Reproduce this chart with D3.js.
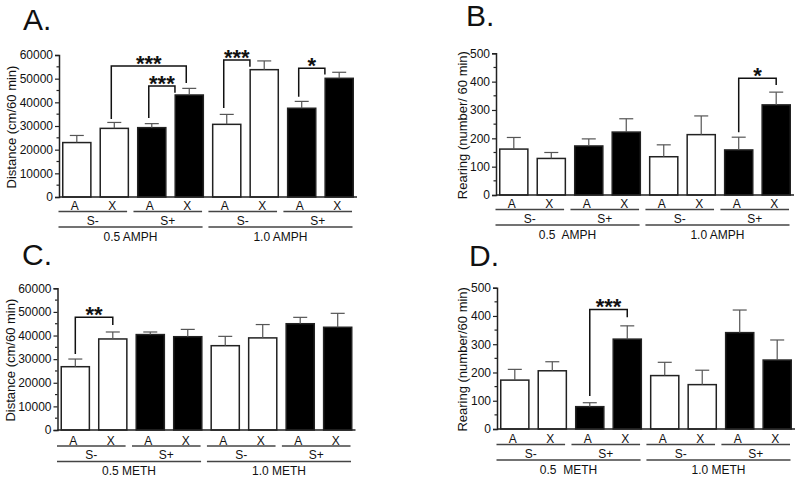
<!DOCTYPE html>
<html>
<head>
<meta charset="utf-8">
<script src="https://cdn.jsdelivr.net/npm/d3@7"></script>
<style>
  html, body { margin: 0; padding: 0; background: #fff; }
  svg { display: block; }
  text { font-family: "Liberation Sans", Arial, sans-serif; fill: #111; }
</style>
</head>
<body>
<svg id="chart" width="800" height="482"></svg>
<script>
// ---------- data ----------
const barLabels = ["A", "X", "A", "X", "A", "X", "A", "X"];
const stimLabels = ["S-", "S+", "S-", "S+"];
const stimFill = ["S-", "S-", "S+", "S+", "S-", "S-", "S+", "S+"];

const distAmphMean = [23000, 29000, 29300, 43100, 30700, 53800, 37500, 50150];
const distAmphSem  = [3000, 2500, 1700, 2800, 4200, 3700, 2900, 2550];
const rearAmphMean = [162, 129, 173, 222, 135, 213, 159, 318];
const rearAmphSem  = [41, 21, 25, 47, 42, 66, 45, 45];
const distMethMean = [26800, 38550, 40400, 39500, 35700, 39000, 45000, 43500];
const distMethSem  = [3250, 2950, 1100, 3100, 3950, 5650, 2700, 5900];
const rearMethMean = [173, 206, 79, 318, 189, 157, 341, 244];
const rearMethSem  = [38, 32, 14, 47, 47, 51, 80, 71];

const distTicks = [0, 10000, 20000, 30000, 40000, 50000, 60000];
const rearTicks = [0, 100, 200, 300, 400, 500];

const amphDoses = ["0.5 AMPH", "1.0 AMPH"];
const amphDosesB = ["0.5  AMPH", "1.0 AMPH"];
const methDoses = ["0.5 METH", "1.0 METH"];
const methDosesD = ["0.5  METH", "1.0 METH"];

// significance brackets: from bar, to bar, top / left-leg end / right-leg end (data units)
const sigA = [
  { from: 1, to: 3, top: 55350, leftEnd: 33000, rightEnd: 48200, label: "***", anchor: "center" },
  { from: 2, to: 3, top: 46900, leftEnd: 33400, rightEnd: 44100, label: "***", anchor: "start" },
  { from: 4, to: 5, top: 57900, leftEnd: 37600, rightEnd: 55000, label: "***", anchor: "start" },
  { from: 6, to: 7, top: 54400, leftEnd: 42400, rightEnd: 51800, label: "*", anchor: "start" }
];
const sigB = [
  { from: 6, to: 7, top: 412, leftEnd: 221, rightEnd: 388, label: "*", anchor: "center" }
];
const sigC = [
  { from: 0, to: 1, top: 47700, leftEnd: 32200, rightEnd: 44500, label: "**", anchor: "center" }
];
const sigD = [
  { from: 2, to: 3, top: 423, leftEnd: 117, rightEnd: 395, label: "***", anchor: "center" }
];

// ---------- layout ----------
const panels = [
  { title: "A.", tx: 23, ty: 30, x0: 59, top: 55, base: 197, max: 60000, ticks: distTicks, minor: 5000,
    mean: distAmphMean, sem: distAmphSem, doses: amphDoses, sig: sigA, ylabel: "Distance (cm/60 min)",
    ylx: 16, fromShift: -3, lab: 0 },
  { title: "B.", tx: 466, ty: 26, x0: 496, top: 53.3, base: 195, max: 500, ticks: rearTicks, minor: 50,
    mean: rearAmphMean, sem: rearAmphSem, doses: amphDosesB, sig: sigB, ylabel: "Rearing (number/ 60 min)",
    ylx: 467, fromShift: 0, lab: 0 },
  { title: "C.", tx: 22, ty: 265, x0: 57.5, top: 288.3, base: 430, max: 60000, ticks: distTicks, minor: 5000,
    mean: distMethMean, sem: distMethSem, doses: methDoses, sig: sigC, ylabel: "Distance (cm/60 min)",
    ylx: 15, fromShift: 0, lab: 1.5 },
  { title: "D.", tx: 469, ty: 265.5, x0: 497, top: 287.7, base: 429, max: 500, ticks: rearTicks, minor: 50,
    mean: rearMethMean, sem: rearMethSem, doses: methDosesD, sig: sigD, ylabel: "Rearing (number/60 min)",
    ylx: 467, fromShift: 0, lab: 1 }
];

const svg = d3.select("#chart");
const axisColor = "#222";
const lineColor = "#444";

panels.forEach(p => {
  const g = svg.append("g");
  const x = d3.scaleBand().domain(d3.range(8)).range([p.x0, p.x0 + 298])
    .paddingInner(0.21).paddingOuter(0.08);
  const y = d3.scaleLinear().domain([0, p.max]).range([p.base, p.top]);

  // title
  g.append("text").attr("x", p.tx).attr("y", p.ty)
    .attr("font-size", 30).text(p.title);

  // y label
  g.append("text")
    .attr("transform", `translate(${p.ylx},${(p.top + p.base) / 2 + 1}) rotate(-90)`)
    .attr("text-anchor", "middle").attr("font-size", 13).text(p.ylabel);

  // y axis
  const yAxis = d3.axisLeft(y).tickValues(p.ticks).tickSize(4).tickPadding(2)
    .tickFormat(d3.format("d"));
  const ya = g.append("g").attr("transform", `translate(${p.x0},0)`).call(yAxis);
  ya.select(".domain").attr("stroke", axisColor).attr("stroke-width", 1.5);
  ya.selectAll(".tick line").attr("stroke", axisColor).attr("stroke-width", 1.2);
  ya.selectAll(".tick text").attr("font-size", 12).attr("fill", "#111")
    .attr("font-family", '"Liberation Sans", Arial, sans-serif');
  // minor ticks
  const minorVals = d3.range(p.minor, p.max, p.minor * 2);
  g.selectAll(".minor").data(minorVals).enter().append("line")
    .attr("x1", p.x0 - 2.5).attr("x2", p.x0)
    .attr("y1", d => y(d)).attr("y2", d => y(d))
    .attr("stroke", axisColor).attr("stroke-width", 1.2);

  // bars
  g.selectAll(".bar").data(p.mean).enter().append("rect")
    .attr("x", (d, i) => x(i) + 0.75)
    .attr("y", d => y(d))
    .attr("width", x.bandwidth() - 1.5)
    .attr("height", d => p.base - y(d))
    .attr("fill", (d, i) => stimFill[i] === "S+" ? "#000" : "#fff")
    .attr("stroke", "#222").attr("stroke-width", 1.5);

  // error bars (upper only)
  const eb = g.selectAll(".err").data(p.mean).enter().append("g");
  eb.append("line")
    .attr("x1", (d, i) => x(i) + x.bandwidth() / 2)
    .attr("x2", (d, i) => x(i) + x.bandwidth() / 2)
    .attr("y1", d => y(d))
    .attr("y2", (d, i) => y(d + p.sem[i]))
    .attr("stroke", "#555").attr("stroke-width", 1.2);
  eb.append("line")
    .attr("x1", (d, i) => x(i) + x.bandwidth() / 2 - 7)
    .attr("x2", (d, i) => x(i) + x.bandwidth() / 2 + 7)
    .attr("y1", (d, i) => y(d + p.sem[i]))
    .attr("y2", (d, i) => y(d + p.sem[i]))
    .attr("stroke", "#555").attr("stroke-width", 1.2);

  // x axis baseline
  g.append("line").attr("x1", p.x0).attr("x2", p.x0 + 298)
    .attr("y1", p.base).attr("y2", p.base)
    .attr("stroke", axisColor).attr("stroke-width", 1.5);

  // category labels
  const b = p.base + p.lab;
  g.selectAll(".cat").data(barLabels).enter().append("text")
    .attr("x", (d, i) => x(i) + x.bandwidth() / 2 - 2)
    .attr("y", b + 13)
    .attr("text-anchor", "middle").attr("font-size", 12).text(d => d);

  // stimulus group lines + labels
  stimLabels.forEach((s, k) => {
    const xs = x(2 * k) - 3.5, xe = x(2 * k + 1) + x.bandwidth() - 2;
    g.append("line").attr("x1", xs).attr("x2", xe).attr("y1", b + 14.5).attr("y2", b + 14.5)
      .attr("stroke", lineColor).attr("stroke-width", 1.5);
    g.append("text").attr("x", (xs + xe) / 2).attr("y", b + 27.5)
      .attr("text-anchor", "middle").attr("font-size", 12).text(s);
  });

  // dose lines + labels
  p.doses.forEach((dname, k) => {
    const xs = x(4 * k) - 3.5, xe = x(4 * k + 3) + x.bandwidth() - 1.5;
    g.append("line").attr("x1", xs).attr("x2", xe).attr("y1", b + 30).attr("y2", b + 30)
      .attr("stroke", lineColor).attr("stroke-width", 1.5);
    g.append("text").attr("x", (xs + xe) / 2).attr("y", b + 43.5)
      .attr("text-anchor", "middle").attr("font-size", 12)
      .attr("xml:space", "preserve").style("white-space", "pre").text(dname);
  });

  // significance brackets
  p.sig.forEach(s => {
    const xl = x(s.from) + x.bandwidth() / 2 + p.fromShift;
    const xr = s.anchor === "start" ? x(s.to) + 0.5 : x(s.to) + x.bandwidth() / 2 + p.fromShift;
    const yt = y(s.top);
    g.append("path")
      .attr("d", `M${xl},${y(s.leftEnd)} V${yt} H${xr} V${y(s.rightEnd)}`)
      .attr("fill", "none").attr("stroke", "#111").attr("stroke-width", 1.5);
    g.append("text").attr("x", (xl + xr) / 2).attr("y", yt + 5)
      .attr("text-anchor", "middle").attr("font-size", 22).attr("font-weight", "bold")
      .text(s.label);
  });
});
</script>
</body>
</html>
